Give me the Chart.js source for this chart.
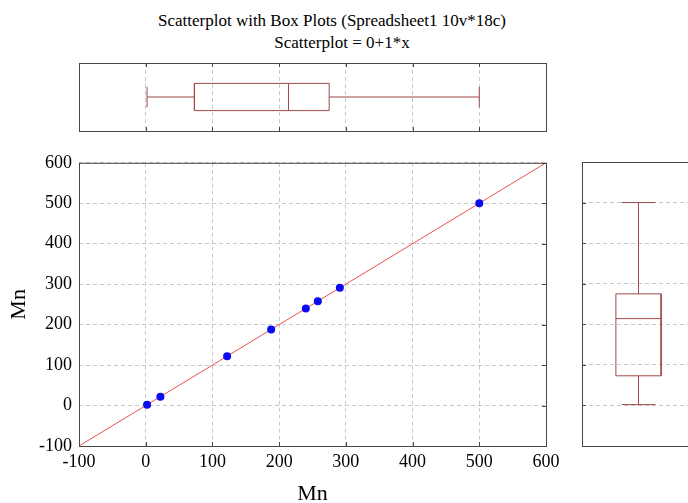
<!DOCTYPE html>
<html>
<head>
<meta charset="utf-8">
<script src="https://cdn.jsdelivr.net/npm/chart.js@4"></script>
<style>
  html, body { margin: 0; padding: 0; background: #fff; overflow: hidden; }
  body { width: 688px; height: 503px; position: relative; font-family: "Liberation Serif", serif; }
  canvas { position: absolute; }
  .title { position: absolute; left: 0; font-size: 17px; line-height: 17px; text-align: center; color: #000; white-space: nowrap; }
</style>
</head>
<body>
<div class="title" style="top:12px;width:664px;">Scatterplot with Box Plots (Spreadsheet1 10v*18c)</div>
<div class="title" style="top:34px;width:684px;">Scatterplot = 0+1*x</div>
<canvas id="topBox" width="468" height="69" style="left:79px;top:63px;"></canvas>
<canvas id="mainPlot" width="570" height="368" style="left:0;top:145px;"></canvas>
<canvas id="sideBox" width="114" height="285" style="left:582px;top:162px;"></canvas>
<script>
// Mn values (same variable on both axes)
const mnX = [2, 22, 122, 188, 240, 258, 291, 500];
const mnY = [2, 22, 122, 188, 240, 258, 291, 500];

// fitted line end points (0 + 1*x)
const fitX = [-100, 600];
const fitY = [-100, 600];

// box plot summary: min, q1, median, q3, max
const boxStats = [2, 73, 214, 275, 500];

// axis ticks
const axisMin = -100;
const axisMax = 600;
const axisStep = 100;

const boxColor = '#a04848';
const gridColor = '#c8c8c8';
const frameColor = '#484848';
const serif = '"Liberation Serif", "Times New Roman", serif';

// frame around plot area plus short inward tick marks
const framePlugin = {
    id: 'frame',
    afterDraw(chart, args, opts) {
        const ctx = chart.ctx;
        const a = chart.chartArea;
        const len = 4;
        ctx.save();
        ctx.strokeStyle = opts.color || frameColor;
        ctx.lineWidth = 1;
        ctx.strokeRect(a.left + 0.5, a.top + 0.5, a.right - a.left, a.bottom - a.top);
        (opts.innerTicks || []).forEach(side => {
            const horiz = side === 'top' || side === 'bottom';
            const scale = horiz ? chart.scales.x : chart.scales.y;
            scale.ticks.forEach(t => {
                const p = Math.round(scale.getPixelForValue(t.value)) + 0.5;
                ctx.beginPath();
                if (side === 'bottom') { ctx.moveTo(p, a.bottom); ctx.lineTo(p, a.bottom - len); }
                if (side === 'top') { ctx.moveTo(p, a.top); ctx.lineTo(p, a.top + len); }
                if (side === 'left') { ctx.moveTo(a.left, p); ctx.lineTo(a.left + len, p); }
                if (side === 'right') { ctx.moveTo(a.right, p); ctx.lineTo(a.right - len, p); }
                ctx.stroke();
            });
        });
        ctx.restore();
    }
};

function seg(points) {
    return {
        data: points,
        showLine: true,
        borderColor: boxColor,
        borderWidth: 1,
        pointRadius: 0,
        fill: false
    };
}

// builds the box + whiskers as line segments; vertical swaps the axes
function boxDatasets(stats, vertical) {
    const [lo, q1, med, q3, hi] = stats;
    const p = vertical ? (v, c) => ({ x: c, y: v }) : (v, c) => ({ x: v, y: c });
    const b0 = 0.3, b1 = 0.7, c0 = 0.35, c1 = 0.65, mid = 0.5;
    return [
        seg([p(q1, b0), p(q3, b0), p(q3, b1), p(q1, b1), p(q1, b0)]),
        seg([p(med, b0), p(med, b1)]),
        seg([p(lo, mid), p(q1, mid)]),
        seg([p(q3, mid), p(hi, mid)]),
        seg([p(lo, c0), p(lo, c1)]),
        seg([p(hi, c0), p(hi, c1)])
    ];
}

function valueAxis(showLabels) {
    return {
        type: 'linear',
        min: axisMin,
        max: axisMax,
        ticks: {
            stepSize: axisStep,
            display: showLabels,
            color: '#000',
            font: { family: serif, size: 18 }
        },
        grid: { color: gridColor, drawTicks: false },
        border: { display: false, dash: [4, 3] }
    };
}

const common = {
    responsive: false,
    animation: false,
    devicePixelRatio: 1,
    events: [],
    plugins: { legend: { display: false }, tooltip: { enabled: false } }
};

Chart.defaults.font.family = serif;

// main scatterplot
const mainX = valueAxis(true);
mainX.ticks.padding = 5;
mainX.title = { display: true, text: 'Mn', color: '#000', font: { family: serif, size: 22 }, padding: { top: 0, bottom: 6 } };
mainX.afterFit = s => { s.height = 67; };

const mainY = valueAxis(true);
mainY.ticks.padding = 7;
mainY.title = { display: true, text: 'Mn', color: '#000', font: { family: serif, size: 22 }, padding: { top: 6, bottom: 0 } };
mainY.afterFit = s => { s.width = 79; };

new Chart(document.getElementById('mainPlot'), {
    type: 'scatter',
    data: {
        datasets: [{
            data: mnX.map((x, i) => ({ x: x, y: mnY[i] })),
            backgroundColor: '#0a0aee',
            borderWidth: 0,
            pointRadius: 4
        }, {
            data: fitX.map((x, i) => ({ x: x, y: fitY[i] })),
            showLine: true,
            borderColor: '#e85050',
            borderWidth: 1,
            pointRadius: 0
        }]
    },
    options: Object.assign({}, common, {
        layout: { padding: { top: 0, right: 24, left: 0, bottom: 0 } },
        scales: { x: mainX, y: mainY },
        plugins: Object.assign({}, common.plugins, {
            frame: { color: frameColor, innerTicks: ['bottom', 'right'] }
        })
    }),
    plugins: [framePlugin]
});

// box plot above (horizontal)
new Chart(document.getElementById('topBox'), {
    type: 'scatter',
    data: { datasets: boxDatasets(boxStats, false) },
    options: Object.assign({}, common, {
        layout: { padding: { top: 0, right: 1, left: 0, bottom: 1 } },
        scales: {
            x: valueAxis(false),
            y: { type: 'linear', min: 0, max: 1, display: false }
        },
        plugins: Object.assign({}, common.plugins, {
            frame: { color: frameColor, innerTicks: ['bottom', 'top'] }
        })
    }),
    plugins: [framePlugin]
});

// box plot at the right (vertical)
new Chart(document.getElementById('sideBox'), {
    type: 'scatter',
    data: { datasets: boxDatasets(boxStats, true) },
    options: Object.assign({}, common, {
        layout: { padding: { top: 0, right: 1, left: 0, bottom: 1 } },
        scales: {
            x: { type: 'linear', min: 0, max: 1, display: false },
            y: valueAxis(false)
        },
        plugins: Object.assign({}, common.plugins, {
            frame: { color: frameColor, innerTicks: ['left'] }
        })
    }),
    plugins: [framePlugin]
});
</script>
</body>
</html>
